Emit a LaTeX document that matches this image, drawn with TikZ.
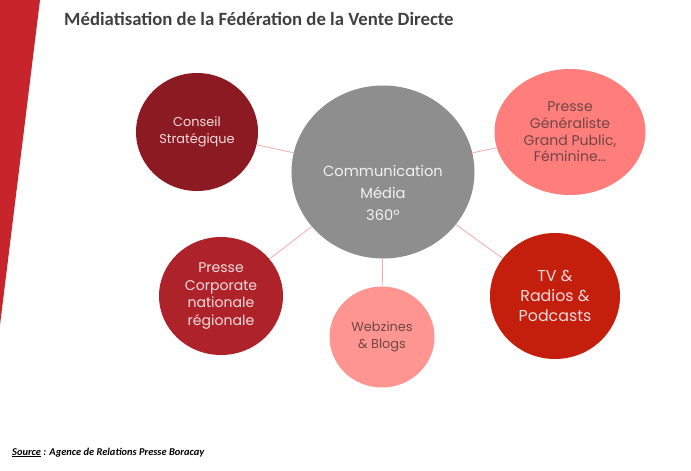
\documentclass[tikz,border=0pt]{standalone}
\usepackage{fontspec}
\setmainfont{Carlito}
\newfontfamily\gothic{Poppins}
\usetikzlibrary{shapes.geometric}
\definecolor{stripe}{HTML}{C8242B}
\definecolor{titlegray}{HTML}{404040}
\definecolor{linkpink}{HTML}{F6ABAB}
\definecolor{conseilred}{HTML}{8B1A22}
\definecolor{midgray}{HTML}{8E8E8E}
\definecolor{salmon}{HTML}{FF7D7B}
\definecolor{tvred}{HTML}{C41E0C}
\definecolor{corpred}{HTML}{AE2229}
\definecolor{lightsalmon}{HTML}{FF9590}
\definecolor{palepink}{HTML}{F5DCDE}
\definecolor{darkrose}{HTML}{704646}

\begin{document}
\begin{tikzpicture}[x=0.03cm,y=-0.03cm,
  bubble/.style={ellipse,inner sep=0pt,align=center,font=\gothic\fontsize{11}{14.5}\selectfont},
  link/.style={line width=0.7pt,linkpink}]
\useasboundingbox (0,0) rectangle (691,471);
\fill[stripe] (0,0) -- (40,0) -- (0,325) -- cycle;
\node[anchor=base west,inner sep=0pt,text=titlegray,font=\bfseries\fontsize{16}{18}\selectfont] (title) at (64,25) {Médiatisation de la Fédération de la Vente Directe};

\node[bubble,fill=midgray,minimum width=5.49cm,minimum height=5.19cm] (mid) at (383,172) {};
\node[align=center,inner sep=0pt,text=white!90!gray,font=\gothic\fontsize{12.5}{19}\selectfont] (midtxt) at (383,193) {Communication\\Média\\360º};
\node[bubble,fill=conseilred,text=palepink,minimum width=3.66cm,minimum height=3.54cm] (cons) at (197,132) {Conseil\\Stratégique};
\node[bubble,fill=salmon,text=darkrose,minimum width=4.53cm,minimum height=3.78cm,font=\gothic\fontsize{12}{14.2}\selectfont] (gen) at (570,132) {Presse\\Généraliste\\Grand Public,\\Féminine…};
\node[bubble,fill=corpred,text=palepink,minimum width=3.72cm,minimum height=3.54cm,font=\gothic\fontsize{12}{15}\selectfont] (corp) at (221,296) {Presse\\Corporate\\nationale\\régionale};
\node[bubble,fill=lightsalmon,text=darkrose,minimum width=3.15cm,minimum height=3.03cm] (web) at (382,337) {Webzines\\\& Blogs};
\node[bubble,fill=tvred,text=palepink,minimum width=3.9cm,minimum height=3.78cm,font=\gothic\fontsize{13.5}{17}\selectfont] (tv) at (555,296) {TV \&\\Radios \&\\Podcasts};

\draw[link] (mid) -- (cons);
\draw[link] (mid) -- (gen);
\draw[link] (mid) -- (corp);
\draw[link] (mid) -- (web);
\draw[link] (mid) -- (tv);

\node[anchor=base west,inner sep=0pt,font=\bfseries\itshape\fontsize{8.9}{10}\selectfont] (src) at (12,455) {\underline{Source} : Agence de Relations Presse Boracay};
\end{tikzpicture}
\end{document}
